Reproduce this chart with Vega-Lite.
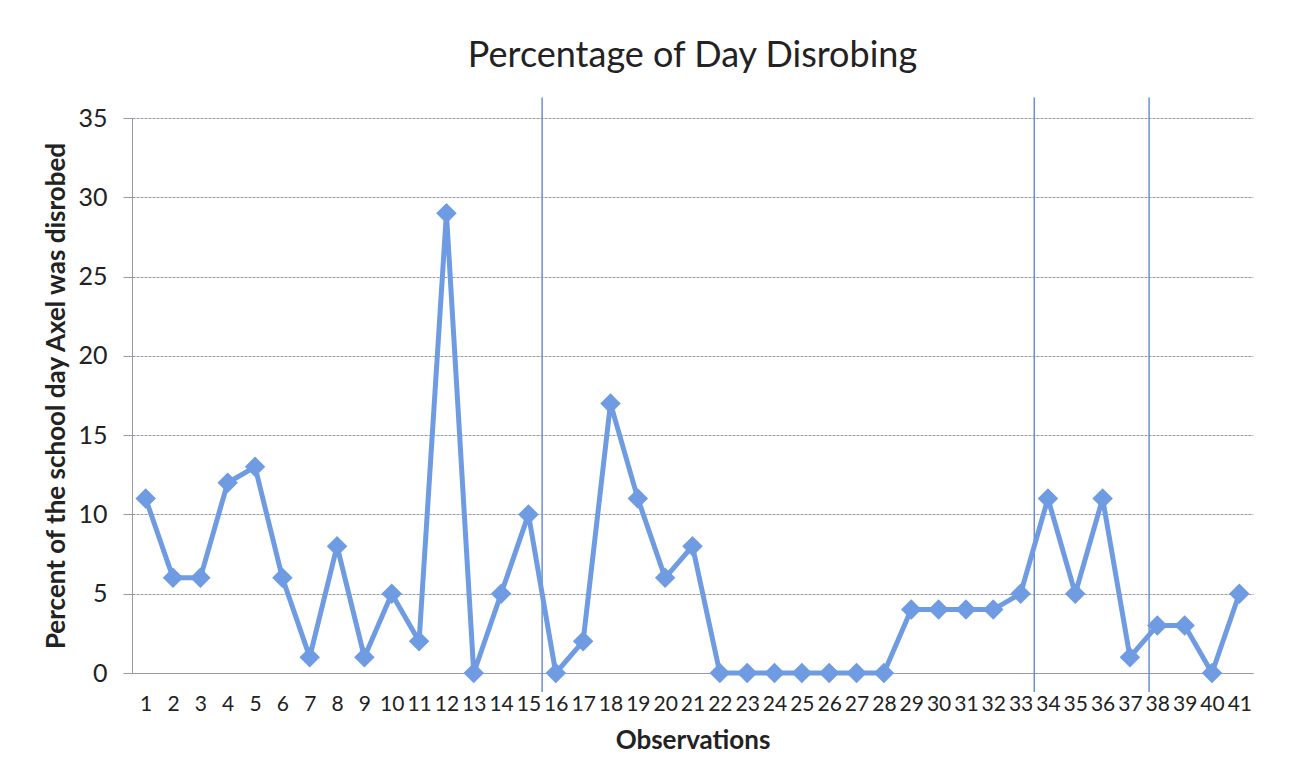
{
  "$schema": "https://vega.github.io/schema/vega-lite/v6.json",
  "autosize": {"type": "none"},
  "width": 1121,
  "height": 555,
  "padding": {"left": 132, "top": 118, "right": 63, "bottom": 110},
  "background": "#ffffff",
  "title": {
    "text": "Percentage of Day Disrobing",
    "font": "Lato",
    "fontSize": 36,
    "fontWeight": "normal",
    "color": "#222222",
    "anchor": "middle",
    "offset": 22
  },
  "datasets": {
    "obs": [
      {"obs": 1, "pct": 11}, {"obs": 2, "pct": 6}, {"obs": 3, "pct": 6}, {"obs": 4, "pct": 12},
      {"obs": 5, "pct": 13}, {"obs": 6, "pct": 6}, {"obs": 7, "pct": 1}, {"obs": 8, "pct": 8},
      {"obs": 9, "pct": 1}, {"obs": 10, "pct": 5}, {"obs": 11, "pct": 2}, {"obs": 12, "pct": 29},
      {"obs": 13, "pct": 0}, {"obs": 14, "pct": 5}, {"obs": 15, "pct": 10}, {"obs": 16, "pct": 0},
      {"obs": 17, "pct": 2}, {"obs": 18, "pct": 17}, {"obs": 19, "pct": 11}, {"obs": 20, "pct": 6},
      {"obs": 21, "pct": 8}, {"obs": 22, "pct": 0}, {"obs": 23, "pct": 0}, {"obs": 24, "pct": 0},
      {"obs": 25, "pct": 0}, {"obs": 26, "pct": 0}, {"obs": 27, "pct": 0}, {"obs": 28, "pct": 0},
      {"obs": 29, "pct": 4}, {"obs": 30, "pct": 4}, {"obs": 31, "pct": 4}, {"obs": 32, "pct": 4},
      {"obs": 33, "pct": 5}, {"obs": 34, "pct": 11}, {"obs": 35, "pct": 5}, {"obs": 36, "pct": 11},
      {"obs": 37, "pct": 1}, {"obs": 38, "pct": 3}, {"obs": 39, "pct": 3}, {"obs": 40, "pct": 0},
      {"obs": 41, "pct": 5}
    ],
    "phases": [
      {"obs": 15.5}, {"obs": 33.5}, {"obs": 37.7}
    ]
  },
  "encoding": {
    "x": {
      "field": "obs",
      "type": "quantitative",
      "scale": {"domain": [0.5, 41.5], "nice": false, "zero": false},
      "axis": {
        "title": "Observations",
        "values": [1,2,3,4,5,6,7,8,9,10,11,12,13,14,15,16,17,18,19,20,21,22,23,24,25,26,27,28,29,30,31,32,33,34,35,36,37,38,39,40,41],
        "grid": false,
        "ticks": false,
        "labelOverlap": false,
        "labelBound": false,
        "labelFlush": false,
        "domainColor": "#9a9aa6",
        "labelPadding": 20,
        "labelFont": "Lato",
        "labelFontSize": 21,
        "labelColor": "#222222",
        "titleFont": "Lato",
        "titleFontSize": 26,
        "titleFontWeight": "bold",
        "titleColor": "#222222",
        "titlePadding": 13
      }
    }
  },
  "layer": [
    {
      "data": {"name": "phases"},
      "mark": {"type": "rule", "color": "#6a8fd6", "strokeWidth": 1.5},
      "encoding": {
        "y": {"datum": -1.2, "type": "quantitative"},
        "y2": {"datum": 36.3}
      }
    },
    {
      "data": {"name": "obs"},
      "mark": {
        "type": "line",
        "color": "#6f9be2",
        "strokeWidth": 5,
        "point": {"shape": "diamond", "size": 420, "filled": true, "color": "#6f9be2", "opacity": 1}
      },
      "encoding": {
        "y": {
          "field": "pct",
          "type": "quantitative",
          "scale": {"domain": [0, 35], "nice": false},
          "axis": {
            "title": "Percent of the school day Axel was disrobed",
            "values": [0, 5, 10, 15, 20, 25, 30, 35],
            "grid": true,
            "gridColor": "#9a9aa6",
            "gridWidth": 1,
            "gridDash": [3, 1],
            "tickSize": 9,
            "tickColor": "#9a9aa6",
            "domainColor": "#9a9aa6",
            "labelPadding": 16,
            "labelFont": "Lato",
            "labelFontSize": 25,
            "labelColor": "#222222",
            "titleFont": "Lato",
            "titleFontSize": 26,
            "titleFontWeight": "bold",
            "titleColor": "#222222",
            "titlePadding": 8
          }
        }
      }
    }
  ],
  "config": {"view": {"stroke": null}}
}
